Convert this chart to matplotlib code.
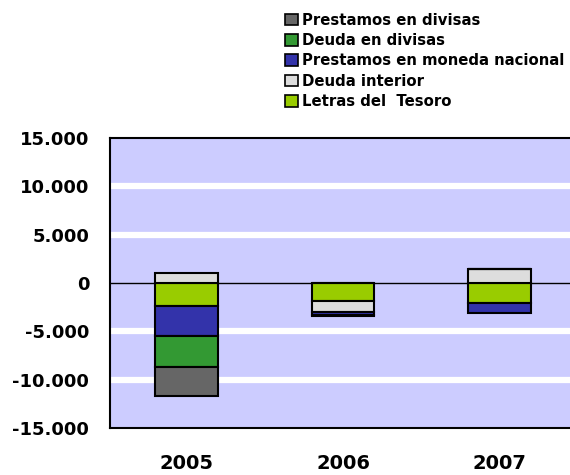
import numpy as np
import matplotlib
matplotlib.use("Agg")
import matplotlib.pyplot as plt
from matplotlib.patches import Patch

years = ["2005", "2006", "2007"]

# series in stacking order (closest to zero first)
letras = [-2400, -1900, -2100]
deuda_interior = [1000, -1100, 1400]
prest_moneda_nac = [-3100, -300, -1000]
deuda_divisas = [-3200, 0, 0]
prest_divisas = [-3000, -100, 0]

series = [
    ("Letras del  Tesoro", letras, "#99CC00"),
    ("Deuda interior", deuda_interior, "#DDDDDD"),
    ("Prestamos en moneda nacional", prest_moneda_nac, "#3333AA"),
    ("Deuda en divisas", deuda_divisas, "#339933"),
    ("Prestamos en divisas", prest_divisas, "#666666"),
]

fig = plt.figure(figsize=(5.7, 4.75), dpi=100)
ax = fig.add_axes([0.193, 0.099, 0.807, 0.6105])
ax.set_facecolor("#CCCCFF")

x = np.arange(len(years))
pos = np.zeros(len(years))
neg = np.zeros(len(years))
for name, vals, col in series:
    vals = np.array(vals, dtype=float)
    bottom = np.where(vals >= 0, pos, neg)
    ax.bar(x, vals, 0.4, bottom=bottom, color=col, edgecolor="black",
           linewidth=1.5, zorder=3)
    pos = pos + np.where(vals >= 0, vals, 0)
    neg = neg + np.where(vals < 0, vals, 0)

ax.axhline(0, color="black", linewidth=1, zorder=2)
ax.set_ylim(-15000, 15000)
ax.set_xlim(-0.49, 2.45)
yt = [-15000, -10000, -5000, 0, 5000, 10000, 15000]
ax.set_yticks(yt)
ax.set_yticklabels([f"{v:,}".replace(",", ".") for v in yt],
                   fontsize=13, fontweight="bold")
for v in [-10000, -5000, 5000, 10000]:
    ax.axhline(v, color="white", linewidth=4.5, zorder=1)
ax.set_xticks(x)
ax.set_xticklabels(years, fontsize=14, fontweight="bold")
ax.tick_params(axis="both", length=0)
ax.tick_params(axis="y", pad=15)
ax.tick_params(axis="x", pad=19)

ax.spines["right"].set_visible(False)
for s in ["left", "top", "bottom"]:
    ax.spines[s].set_linewidth(1.5)

handles = [Patch(facecolor=c, edgecolor="black", linewidth=1.2, label=n)
           for n, v, c in series[::-1]]
fig.legend(handles=handles, loc="upper left", bbox_to_anchor=(0.49, 0.986),
           frameon=False, prop={"weight": "bold", "size": 10.7},
           handlelength=0.85, handleheight=0.85, handletextpad=0.25,
           labelspacing=0.36, borderaxespad=0)

fig.savefig("out.png", dpi=100)
